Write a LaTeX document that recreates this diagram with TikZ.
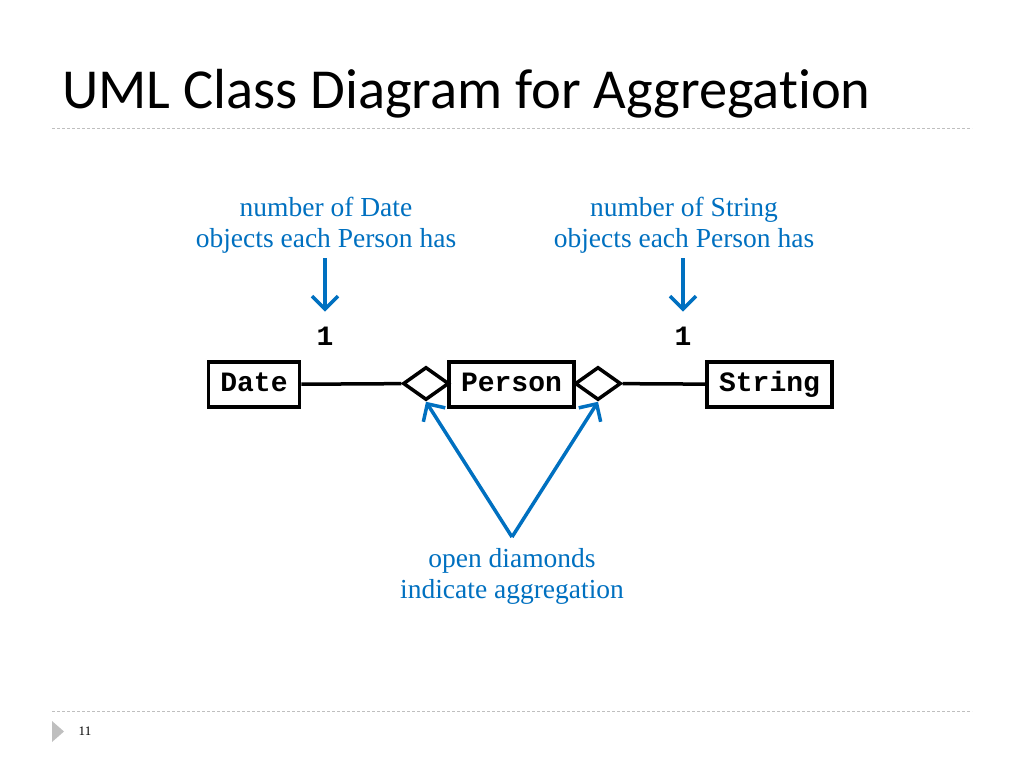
\documentclass[tikz,border=0pt]{standalone}
\usepackage{fontspec}
\setmainfont{Liberation Serif}
\newfontfamily\titlefont[Ligatures=NoCommon]{Carlito}
\newfontfamily\codefont{Liberation Mono}
\usetikzlibrary{arrows.meta,shapes.geometric}
\definecolor{noteblue}{HTML}{0070C0}
\definecolor{rulegray}{HTML}{BFBFBF}

\begin{document}
\begin{tikzpicture}[x=1pt,y=-1pt,
  classbox/.style={draw,line width=3.5pt,inner xsep=12pt,inner ysep=0pt,minimum height=45pt,
    text height=19pt,text depth=5pt,font=\codefont\bfseries\fontsize{28}{30}\selectfont},
  aggdiamond/.style={draw,diamond,line width=3.5pt,inner sep=0pt,minimum width=46pt,minimum height=33pt},
  mult/.style={inner sep=0pt,font=\codefont\bfseries\fontsize{28}{30}\selectfont},
  note/.style={align=center,inner sep=0pt,text=noteblue,font=\fontsize{27.5}{31}\selectfont},
  pointer/.style={draw=noteblue,line width=3.5pt,-{Straight Barb[length=13pt,width=26pt]}},
  slideline/.style={draw=rulegray,line width=1pt,dash pattern=on 3pt off 2pt}]
\useasboundingbox (0,0) rectangle (1024,768);
% Title
\node [anchor=base west,inner sep=0pt,font=\titlefont\fontsize{56.5}{60}\selectfont] (title) at (62,108) {UML Class Diagram for Aggregation};
\draw [slideline] (52,128) -- (972,128);
% Footer
\draw [slideline] (52,711) -- (972,711);
\fill [rulegray] (52,721) -- (64,731.5) -- (52,742) -- cycle;
\node [font=\fontsize{13}{14}\selectfont] (pagenum) at (85,731) {11};
% Classes
\node [classbox] (date) at (254,384.5) {Date};
\node [classbox] (person) at (511.5,384.5) {Person};
\node [classbox] (string) at (769.5,384.5) {String};
% Open diamonds
\node [aggdiamond] (ldia) at (426,383.5) {};
\node [aggdiamond] (rdia) at (598,383.5) {};
% Associations
\draw [line width=3.5pt] (date) -- (ldia);
\draw [line width=3.5pt] (rdia) -- (string);
% Multiplicities
\node [mult] (dmult) at (325,336) {1};
\node [mult] (smult) at (683,336) {1};
% Notes
\node [note] (dnote) at (326,225) {number of Date\\objects each Person has};
\node [note] (snote) at (684,225) {number of String\\objects each Person has};
\node [note] (anote) at (512,576) {open diamonds\\indicate aggregation};
% Note arrows
\coordinate (dtail) at (325,258);
\coordinate (stail) at (683,258);
\coordinate (apex) at (512,537);
\draw [pointer,shorten >=15pt] (dtail) -- (dmult.north);
\draw [pointer,shorten >=15pt] (stail) -- (smult.north);
\draw [pointer] (apex) -- (ldia.south);
\draw [pointer] (apex) -- (rdia.south);
\end{tikzpicture}
\end{document}
